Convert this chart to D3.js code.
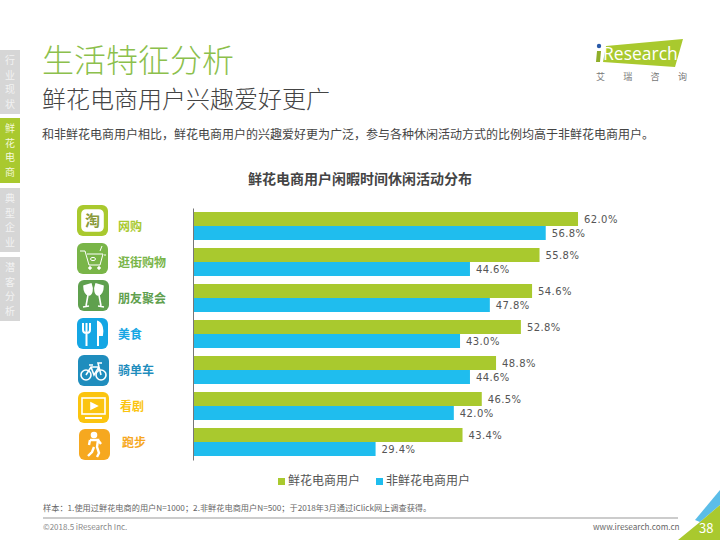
<!DOCTYPE html>
<meta charset="utf-8">
<style>
    html, body { margin: 0; padding: 0; background: #fff; }
    svg { display: block; }
    text { font-family: "Noto Sans CJK SC", "Noto Sans", sans-serif; }
    .val { font: 10px "DejaVu Sans", sans-serif; fill: #555; letter-spacing: .4px; }
    .axis line, .axis path { stroke: #777; }
</style>
<body>
<script src="https://cdnjs.cloudflare.com/ajax/libs/d3/7.8.5/d3.min.js"></script>
<script>

    var categories = ["网购", "逛街购物", "朋友聚会", "美食", "骑单车", "看剧", "跑步"];
    var flowerUsers = [62.0, 55.8, 54.6, 52.8, 48.8, 46.5, 43.4];
    var otherUsers = [56.8, 44.6, 47.8, 43.0, 44.6, 42.0, 29.4];
    var seriesNames = ["鲜花电商用户", "非鲜花电商用户"];
    var seriesColors = ["#a9c92e", "#1fbdee"];
    var categoryColors = ["#a9c92e", "#79b548", "#5fa04e", "#14a6e4", "#1f8dbd", "#fbc40f", "#f6a81f"];
    var navLabels = ["行业现状", "鲜花电商", "典型企业", "潜客分析"];

    var svg = d3.select("body").append("svg").attr("width", 720).attr("height", 540);

    function label(x, y, str, size, color, weight) {
        return svg.append("text").attr("x", x).attr("y", y).text(str)
            .attr("font-size", size).attr("fill", color).attr("font-weight", weight || 400);
    }

    // side navigation
    var navY = [50, 118, 188, 257], navH = [64, 65, 64, 64];
    navLabels.forEach(function(name, i) {
        var active = i == 1;
        svg.append("rect").attr("x", 0).attr("y", navY[i]).attr("width", 20).attr("height", navH[i])
            .attr("fill", active ? "#a9c92e" : "#d6d6d6");
        name.split("").forEach(function(ch, j) {
            svg.append("text").attr("x", 10).attr("y", navY[i] + 14 + j * 14.5).text(ch)
                .attr("text-anchor", "middle").attr("font-size", 10).attr("fill", active ? "#f4f8dc" : "#f2f2f2");
        });
    });

    // headings
    label(42, 72, "生活特征分析", 32, "#8cc04c", 300);
    label(42, 108, "鲜花电商用户兴趣爱好更广", 24, "#444", 300);
    label(42, 139, "和非鲜花电商用户相比，鲜花电商用户的兴趣爱好更为广泛，参与各种休闲活动方式的比例均高于非鲜花电商用户。", 12, "#444");
    label(248, 184, "鲜花电商用户闲暇时间休闲活动分布", 14, "#444", 700);

    // logo
    svg.append("polygon").attr("points", "606,46 683,39 675,67 603,62").attr("fill", "#a9c92e");
    svg.append("circle").attr("cx", 599).attr("cy", 46).attr("r", 2.2).attr("fill", "#2a5aa8");
    svg.append("polygon").attr("points", "597,51 601,51 600,62 596,62").attr("fill", "#8fae2a");
    label(603, 60, "Research", 17.5, "#fff").style("font-family", "'Open Sans', sans-serif");
    ["艾", "瑞", "咨", "询"].forEach(function(ch, i) {
        label(596 + i * 27.3, 80, ch, 9, "#777");
    });

    // chart
    var x = d3.scaleLinear().domain([0, 100]).range([193, 814]);
    var y = d3.scaleBand().domain(categories).range([208, 460]).paddingInner(8 / 36).paddingOuter(4 / 36);
    var ySub = d3.scaleBand().domain(seriesNames).range([0, y.bandwidth()]);

    [flowerUsers, otherUsers].forEach(function(values, s) {
        svg.append("g").selectAll("rect").data(values).enter().append("rect")
            .attr("x", x(0))
            .attr("y", function(d, i) { return y(categories[i]) + ySub(seriesNames[s]); })
            .attr("width", function(d) { return x(d) - x(0); })
            .attr("height", ySub.bandwidth())
            .attr("fill", seriesColors[s]);
        svg.append("g").selectAll("text").data(values).enter().append("text")
            .attr("class", "val")
            .attr("x", function(d) { return x(d) + 6; })
            .attr("y", function(d, i) { return y(categories[i]) + ySub(seriesNames[s]) + ySub.bandwidth() / 2 + 4; })
            .text(function(d) { return d.toFixed(1) + "%"; });
    });

    svg.append("g").attr("class", "axis").attr("transform", "translate(193,0)")
        .call(d3.axisLeft(y).tickSize(0).tickFormat(""));

    // category labels and icons
    var labelX = [118, 118, 118, 118, 118, 120, 122];
    var iconX = [77, 77, 78, 77, 78, 78, 79];
    var iconY = [205, 243, 280, 318, 355, 392, 429];
    var iconDrawers = [iconShop, iconCart, iconGlasses, iconFood, iconBike, iconTv, iconRun];

    categories.forEach(function(name, i) {
        label(labelX[i], y(name) + 19, name, 12, categoryColors[i], 700);
        var g = svg.append("g").attr("transform", "translate(" + iconX[i] + "," + iconY[i] + ")");
        g.append("rect").attr("width", 31).attr("height", 31).attr("rx", 6).attr("fill", categoryColors[i]);
        iconDrawers[i](g.append("g").attr("fill", "none").attr("stroke", "#fff").attr("stroke-width", 1.6));
    });

    function iconShop(g) {
        g.append("rect").attr("x", 5).attr("y", 5).attr("width", 21).attr("height", 21).attr("rx", 4).attr("fill", "#fff");
        g.append("text").attr("x", 15.5).attr("y", 20.5).text("淘").attr("text-anchor", "middle")
            .attr("font-size", 15).attr("font-weight", 700).attr("stroke", "none").attr("fill", "#8a9a3a");
    }
    function iconCart(g) {
        g.attr("stroke-width", 1);
        g.append("path").attr("d", "M3 8H8L12 22H23L26 11H10");
        g.append("circle").attr("cx", 13).attr("cy", 25).attr("r", 1.3).attr("fill", "#fff");
        g.append("circle").attr("cx", 22).attr("cy", 25).attr("r", 1.3).attr("fill", "#fff");
        g.append("ellipse").attr("cx", 16).attr("cy", 16).attr("rx", 2.5).attr("ry", 1.6);
        g.append("path").attr("d", "M25 3L23 8M29 12L27 12");
    }
    function iconGlasses(g) {
        g.append("path").attr("d", "M6 6L13 4C15 9 14 14 11 15C8 15 6 11 6 6Z").attr("fill", "#fff");
        g.append("path").attr("d", "M25 6L18 4C16 9 17 14 20 15C23 15 25 11 25 6Z").attr("fill", "#fff");
        g.append("path").attr("d", "M10 15L8 26M5 27L11 26M21 15L23 26M20 26L26 27");
    }
    function iconFood(g) {
        g.attr("stroke-width", 2);
        g.append("path").attr("d", "M6 5V12C6 16 13 16 13 12V5M9.5 5V28");
        g.append("path").attr("d", "M21 28V4C25 6 26 12 25 17H21").attr("fill", "#fff");
    }
    function iconBike(g) {
        g.append("circle").attr("cx", 8).attr("cy", 20).attr("r", 5);
        g.append("circle").attr("cx", 23).attr("cy", 20).attr("r", 5);
        g.append("path").attr("d", "M8 20L13 12H21L23 20M13 12L16 20L21 12M21 12L20 8H24M11 10H15");
    }
    function iconTv(g) {
        g.append("rect").attr("x", 4).attr("y", 6).attr("width", 23).attr("height", 16);
        g.append("path").attr("d", "M13 11L19 14L13 17Z").attr("fill", "#fff");
        g.append("path").attr("d", "M7 26H24").attr("stroke-width", 2);
    }
    function iconRun(g) {
        g.append("circle").attr("cx", 15).attr("cy", 6).attr("r", 2.5).attr("fill", "#fff");
        g.append("path").attr("d", "M11 11H19L18 18L20 24L18 28M15 18L13 23L9 27M11 11L10 16M19 11L22 15")
            .attr("stroke-width", 2.4);
    }

    // legend
    var legendX = [278, 376];
    seriesNames.forEach(function(name, i) {
        svg.append("rect").attr("x", legendX[i]).attr("y", 478).attr("width", 7).attr("height", 7).attr("fill", seriesColors[i]);
        label(legendX[i] + 10, 485, name, 12, "#555");
    });

    // footer
    label(43, 511, "样本：1.使用过鲜花电商的用户N=1000；2.非鲜花电商用户N=500；于2018年3月通过iClick网上调查获得。", 8.2, "#666");
    svg.append("line").attr("x1", 43).attr("x2", 678).attr("y1", 518).attr("y2", 518).attr("stroke", "#999");
    label(43, 530, "©2018.5 iResearch Inc.", 8, "#888");
    label(593, 530, "www.iresearch.com.cn", 8.2, "#666");

    // page corner
    svg.append("polygon").attr("points", "720,490 720,505 700,522 695,520").attr("fill", "#5bbde8");
    svg.append("polygon").attr("points", "700,522 720,505 720,540 678,540").attr("fill", "#a9c92e");
    label(699, 533, "38", 13, "#fff");

</script>
